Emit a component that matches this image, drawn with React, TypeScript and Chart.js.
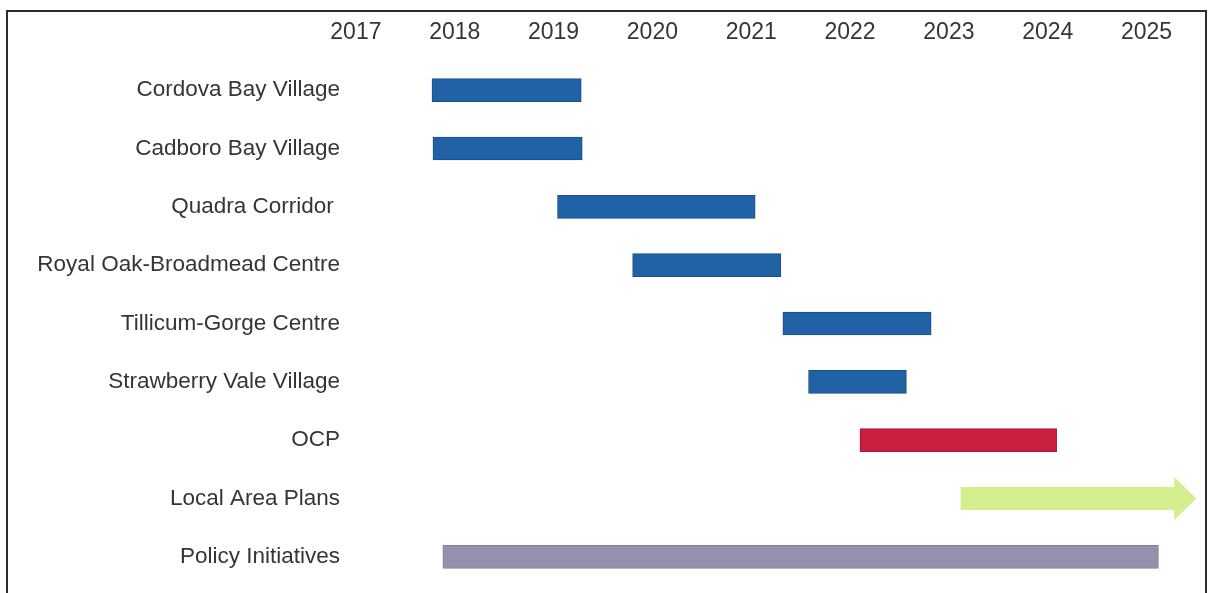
import React, { useEffect, useRef } from "react";
import { Chart, registerables } from "chart.js";

Chart.register(...registerables);

const categories = [
  "Cordova Bay Village",
  "Cadboro Bay Village",
  "Quadra Corridor ",
  "Royal Oak-Broadmead Centre",
  "Tillicum-Gorge Centre",
  "Strawberry Vale Village",
  "OCP",
  "Local Area Plans",
  "Policy Initiatives",
];
const startYears = [2017.77, 2017.78, 2019.04, 2019.8, 2021.32, 2021.58, 2022.1, 2023.12, 2017.88];
const endYears = [2019.28, 2019.29, 2021.04, 2021.3, 2022.82, 2022.57, 2024.09, 2025.29, 2025.12];
const barColors = ["#2162a6", "#2162a6", "#2162a6", "#2162a6", "#2162a6", "#2162a6", "#c8203e", "#d4ee8e", "#9690ad"];
const borderColors = ["#1a4f88", "#1a4f88", "#1a4f88", "#1a4f88", "#1a4f88", "#1a4f88", "#a51a33", "#d4ee8e", "#857f9c"];
const arrowRows = [false, false, false, false, false, false, false, true, false];
const yearTicks = [2017, 2018, 2019, 2020, 2021, 2022, 2023, 2024, 2025];

const arrowPlugin = {
  id: "arrowHeads",
  afterDatasetsDraw(chart: any) {
    const meta = chart.getDatasetMeta(0);
    const ctx = chart.ctx;
    meta.data.forEach((bar: any, i: number) => {
      if (!arrowRows[i]) return;
      const headLen = 21;
      const headHalf = 21.5;
      ctx.save();
      ctx.fillStyle = barColors[i];
      ctx.beginPath();
      ctx.moveTo(bar.x - 1, bar.y - headHalf);
      ctx.lineTo(bar.x + headLen, bar.y);
      ctx.lineTo(bar.x - 1, bar.y + headHalf);
      ctx.closePath();
      ctx.fill();
      ctx.restore();
    });
  },
};

export default function App() {
  const ref = useRef<HTMLCanvasElement | null>(null);
  useEffect(() => {
    if (!ref.current) return;
    const chart = new Chart(ref.current, {
      type: "bar",
      data: {
        labels: categories,
        datasets: [
          {
            data: startYears.map((s, i) => [s, endYears[i]]) as any,
            backgroundColor: barColors,
            borderColor: borderColors,
            borderWidth: 1,
            borderSkipped: false,
            barThickness: 23,
          },
        ],
      },
      options: {
        indexAxis: "y",
        animation: false,
        responsive: false,
        devicePixelRatio: 1,
        layout: { padding: { top: 0, bottom: 7, left: 8, right: 16 } },
        plugins: { legend: { display: false }, tooltip: { enabled: false } },
        scales: {
          x: {
            type: "linear",
            position: "top",
            min: 2016.9,
            max: 2025.5,
            grid: { display: false, drawTicks: false, tickLength: 0 },
            border: { display: false },
            afterBuildTicks: (scale: any) => {
              scale.ticks = yearTicks.map((v) => ({ value: v }));
            },
            afterFit: (scale: any) => {
              scale.height = 61;
              scale.paddingLeft = 0;
              scale.paddingRight = 0;
            },
            ticks: {
              padding: 15,
              color: "#353535",
              font: { family: "'Liberation Sans', Arial, sans-serif", size: 23 },
              callback: (v: any) => String(v),
            },
          },
          y: {
            grid: { display: false, drawTicks: false, tickLength: 0 },
            border: { display: false },
            afterFit: (scale: any) => {
              scale.width = 338;
              scale.paddingTop = 0;
              scale.paddingBottom = 0;
            },
            ticks: {
              padding: 6,
              color: "#353535",
              font: { family: "'Liberation Sans', Arial, sans-serif", size: 22.5 },
            },
          },
        },
      },
      plugins: [arrowPlugin],
    });
    return () => chart.destroy();
  }, []);
  return (
    <div style={{ position: "fixed", left: 0, top: 0, width: 1212, height: 593, background: "#ffffff", overflow: "hidden" }}>
      <canvas ref={ref} width={1212} height={593} style={{ display: "block", width: 1212, height: 593 }} />
      <div
        style={{
          position: "absolute",
          left: 6,
          top: 10,
          width: 1197,
          height: 640,
          border: "2px solid #2b2f33",
          pointerEvents: "none",
        }}
      />
    </div>
  );
}
